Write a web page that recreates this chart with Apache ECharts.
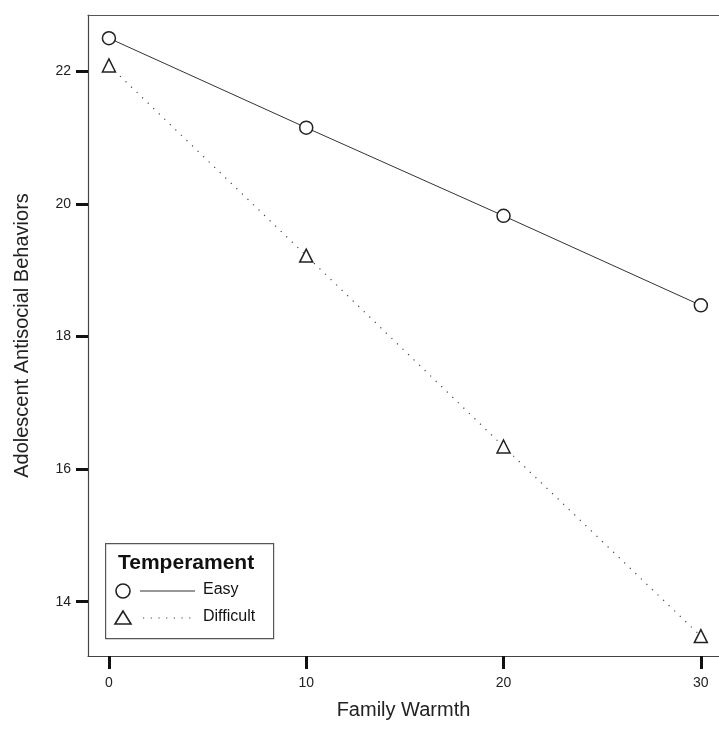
<!DOCTYPE html>
<html lang="en">
<head>
    <meta charset="UTF-8">
    <title>Family Warmth</title>
    <script src="https://cdn.jsdelivr.net/npm/echarts@6/dist/echarts.min.js"></script>
    <style>
        body { margin: 0; background: #fff; }
        #main { width: 719px; height: 731px; }
    </style>
</head>
<body>
    <div id="main"></div>
    <script>
        // data
        var warmth = [0, 10, 20, 30];
        var easy = [22.50, 21.15, 19.82, 18.47];
        var difficult = [22.09, 19.22, 16.34, 13.48];
        var xTicks = [0, 10, 20, 30];
        var yTicks = [14, 16, 18, 20, 22];

        function pairs(xs, ys) {
            return xs.map(function (x, i) { return [x, ys[i]]; });
        }

        var chart = echarts.init(document.getElementById('main'));
        var font = "'Liberation Sans', Arial, sans-serif";

        var option = {
            backgroundColor: '#fff',
            animation: false,
            // plot runs to the right edge, so no right border shows
            grid: { left: 88, top: 15, right: 0, bottom: 75, outerBoundsMode: 'none' },
            xAxis: [
                {
                    type: 'value',
                    min: -1.06, max: 30.92,
                    name: 'Family Warmth',
                    nameLocation: 'middle',
                    nameGap: 44,
                    nameTextStyle: { fontFamily: font, fontSize: 20, color: '#222' },
                    axisLine: { onZero: false, lineStyle: { color: '#444', width: 1.2 } },
                    axisTick: { customValues: xTicks, length: 13, lineStyle: { color: '#111', width: 3 } },
                    axisLabel: { customValues: xTicks, margin: 20, fontFamily: font, fontSize: 14, color: '#222' },
                    splitLine: { show: false }
                },
                {
                    // top frame line only
                    type: 'value',
                    position: 'top',
                    min: -1.06, max: 30.92,
                    axisLine: { onZero: false, lineStyle: { color: '#555', width: 1.2 } },
                    axisTick: { show: false },
                    axisLabel: { show: false },
                    splitLine: { show: false }
                }
            ],
            yAxis: {
                type: 'value',
                min: 13.18, max: 22.85,
                name: 'Adolescent Antisocial Behaviors',
                nameLocation: 'middle',
                nameGap: 56,
                nameTextStyle: { fontFamily: font, fontSize: 20, color: '#222' },
                axisLine: { onZero: false, lineStyle: { color: '#444', width: 1.2 } },
                axisTick: { customValues: yTicks, length: 12, lineStyle: { color: '#111', width: 3 } },
                axisLabel: { customValues: yTicks, margin: 17, fontFamily: font, fontSize: 14, color: '#222' },
                splitLine: { show: false }
            },
            series: [
                {
                    name: 'Easy',
                    type: 'line',
                    data: pairs(warmth, easy),
                    symbol: 'circle',
                    symbolSize: 13,
                    itemStyle: { color: '#fff', borderColor: '#222', borderWidth: 1.5 },
                    lineStyle: { color: '#333', width: 1 }
                },
                {
                    name: 'Difficult',
                    type: 'line',
                    data: pairs(warmth, difficult),
                    symbol: 'triangle',
                    symbolSize: 13,
                    itemStyle: { color: '#fff', borderColor: '#222', borderWidth: 1.5 },
                    lineStyle: { color: '#444', width: 1.2, type: [1.2, 6.5] }
                }
            ],
            // legend box drawn by hand to match the original layout
            graphic: [
                { type: 'rect', left: 105, top: 543, shape: { width: 168, height: 95 },
                  style: { fill: '#fff', stroke: '#555', lineWidth: 1.2 } },
                { type: 'text', left: 118, top: 553,
                  style: { text: 'Temperament', font: 'bold 21px ' + font, fill: '#111' } },
                { type: 'circle', shape: { cx: 123, cy: 591, r: 7 },
                  style: { fill: '#fff', stroke: '#222', lineWidth: 1.6 } },
                { type: 'line', shape: { x1: 140, y1: 591, x2: 195, y2: 591 },
                  style: { stroke: '#333', lineWidth: 1 } },
                { type: 'text', left: 203, top: 582,
                  style: { text: 'Easy', font: '16px ' + font, fill: '#111' } },
                { type: 'polygon', shape: { points: [[123, 611], [115, 624], [131, 624]] },
                  style: { fill: '#fff', stroke: '#222', lineWidth: 1.6 } },
                { type: 'line', shape: { x1: 143, y1: 618, x2: 195, y2: 618 },
                  style: { stroke: '#444', lineWidth: 1.2, lineDash: [1.2, 6.5] } },
                { type: 'text', left: 203, top: 609,
                  style: { text: 'Difficult', font: '16px ' + font, fill: '#111' } }
            ]
        };

        chart.setOption(option);
    </script>
</body>
</html>
